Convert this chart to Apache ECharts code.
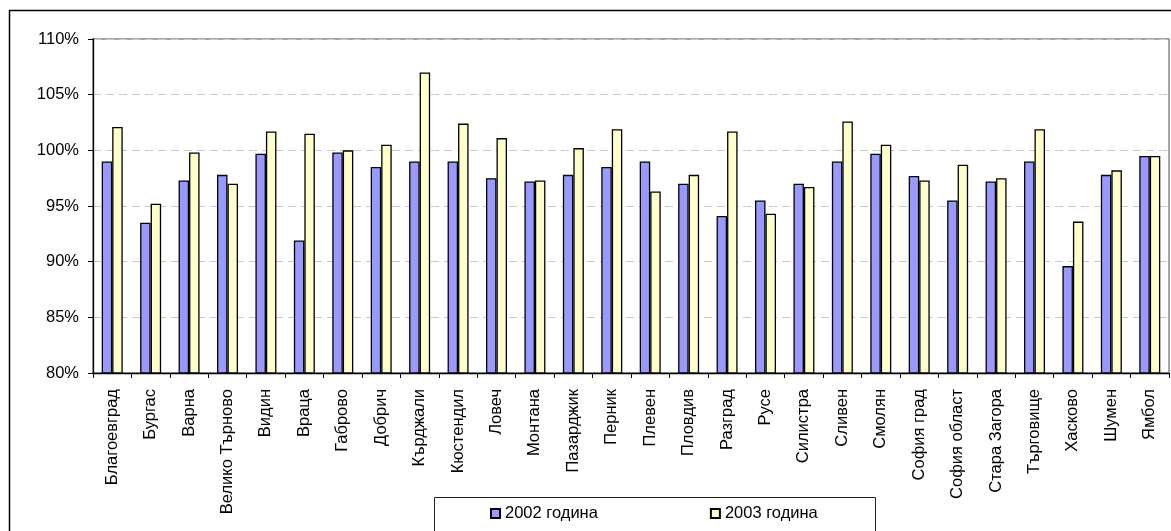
<!DOCTYPE html>
<html>
<head>
<meta charset="utf-8">
<script src="https://cdn.jsdelivr.net/npm/echarts@6/dist/echarts.min.js"></script>
<style>
  html, body { margin: 0; padding: 0; background: #fff; }
  #chart { width: 1171px; height: 531px; }
</style>
</head>
<body>
<div id="chart"></div>
<script>
// Districts along the category axis
const districts = [
  'Благоевград', 'Бургас', 'Варна', 'Велико Търново', 'Видин', 'Враца', 'Габрово',
  'Добрич', 'Кърджали', 'Кюстендил', 'Ловеч', 'Монтана', 'Пазарджик', 'Перник',
  'Плевен', 'Пловдив', 'Разград', 'Русе', 'Силистра', 'Сливен', 'Смолян',
  'София град', 'София област', 'Стара Загора', 'Търговище', 'Хасково', 'Шумен', 'Ямбол'
];

// Values in percent
const values2002 = [
  99.0, 93.5, 97.3, 97.8, 99.7, 91.9, 99.8,
  98.5, 99.0, 99.0, 97.5, 97.2, 97.8, 98.5,
  99.0, 97.0, 94.1, 95.5, 97.0, 99.0, 99.7,
  97.7, 95.5, 97.2, 99.0, 89.6, 97.8, 99.5
];
const values2003 = [
  102.1, 95.2, 99.8, 97.0, 101.7, 101.5, 100.0,
  100.5, 107.0, 102.4, 101.1, 97.3, 100.2, 101.9,
  96.3, 97.8, 101.7, 94.3, 96.7, 102.6, 100.5,
  97.3, 98.7, 97.5, 101.9, 93.6, 98.2, 99.5
];

const seriesNames = ['2002 година', '2003 година'];
const seriesColors = ['#9999FF', '#FFFFCC'];

const yTicks = { min: 80, max: 110, step: 5 };

const FONT = '"Liberation Sans", Arial, sans-serif';
const FONT_SIZE = 16.5;

const chart = echarts.init(document.getElementById('chart'), null, { renderer: 'canvas' });

chart.setOption({
  animation: false,
  backgroundColor: '#fff',
  textStyle: { fontFamily: FONT },
  graphic: [
    {
      type: 'rect',
      z: -10,
      silent: true,
      shape: { x: 9.5, y: 10.5, width: 1200, height: 600 },
      style: { fill: '#fff', stroke: '#000', lineWidth: 1.5 }
    },
    {
      type: 'rect',
      z: 5,
      silent: true,
      shape: { x: 434.5, y: 497.5, width: 441, height: 60 },
      style: { fill: '#fff', stroke: '#222', lineWidth: 1 }
    }
  ],
  legend: {
    left: 490,
    top: 505,
    z: 10,
    icon: 'rect',
    itemWidth: 9,
    itemHeight: 9,
    itemGap: 112,
    padding: 0,
    textStyle: { fontFamily: FONT, fontSize: FONT_SIZE, color: '#000' },
    data: seriesNames
  },
  grid: {
    left: 93,
    top: 39,
    right: 2,
    bottom: 158,
    show: true,
    borderColor: '#888',
    borderWidth: 1.5,
    containLabel: false
  },
  xAxis: {
    type: 'category',
    data: districts,
    axisLine: { lineStyle: { color: '#000', width: 1.3 } },
    axisTick: { show: true, length: 5, lineStyle: { color: '#000' } },
    axisLabel: {
      interval: 0,
      rotate: 90,
      margin: 16,
      fontFamily: FONT,
      fontSize: FONT_SIZE,
      color: '#000'
    }
  },
  yAxis: {
    type: 'value',
    min: yTicks.min,
    max: yTicks.max,
    interval: yTicks.step,
    axisLine: { show: true, lineStyle: { color: '#000', width: 1.3 } },
    axisTick: { show: true, length: 5, lineStyle: { color: '#000' } },
    axisLabel: {
      formatter: '{value}%',
      margin: 14,
      fontFamily: FONT,
      fontSize: FONT_SIZE,
      color: '#000'
    },
    splitLine: {
      show: true,
      lineStyle: { color: '#c8c8c8', type: [8, 5], width: 1 }
    }
  },
  series: [
    {
      name: seriesNames[0],
      type: 'bar',
      data: values2002,
      barWidth: 10.5,
      barGap: '0%',
      itemStyle: { color: seriesColors[0], borderColor: '#000', borderWidth: 1.3 }
    },
    {
      name: seriesNames[1],
      type: 'bar',
      data: values2003,
      barWidth: 10.5,
      barGap: '0%',
      itemStyle: { color: seriesColors[1], borderColor: '#000', borderWidth: 1.3 }
    }
  ]
});
</script>
</body>
</html>
